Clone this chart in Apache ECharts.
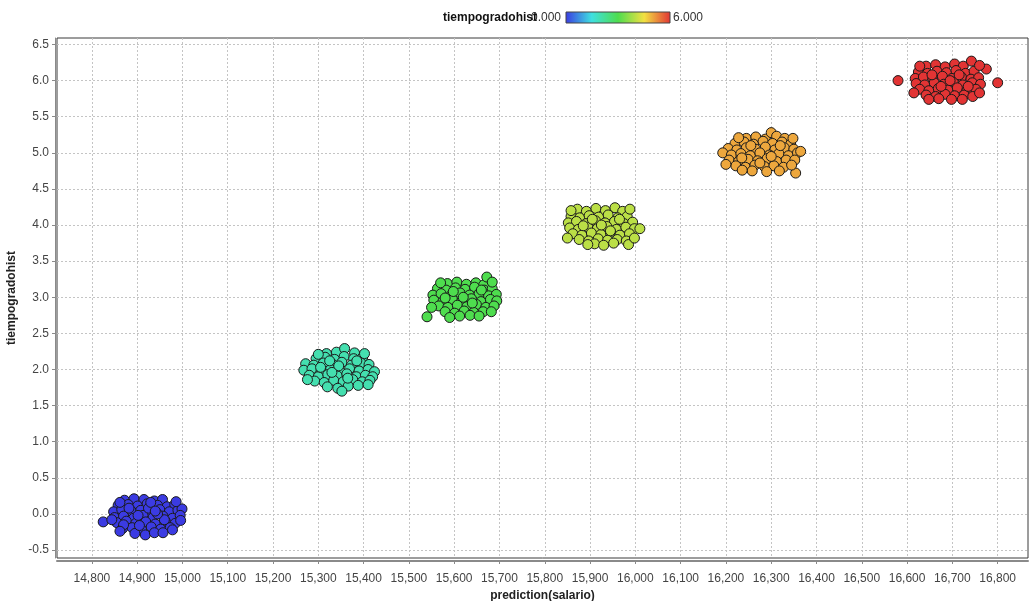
<!DOCTYPE html>
<html>
<head>
<meta charset="utf-8">
<script src="https://cdn.jsdelivr.net/npm/echarts@6/dist/echarts.min.js"></script>
<style>
  html, body { margin: 0; padding: 0; background: #fff; }
  #chart { width: 1031px; height: 601px; }
</style>
</head>
<body>
<div id="chart"></div>
<script>
// Axis ticks
const xTicks = [14800, 14900, 15000, 15100, 15200, 15300, 15400, 15500, 15600, 15700,
  15800, 15900, 16000, 16100, 16200, 16300, 16400, 16500, 16600, 16700, 16800];
const yTicks = [-0.5, 0.0, 0.5, 1.0, 1.5, 2.0, 2.5, 3.0, 3.5, 4.0, 4.5, 5.0, 5.5, 6.0, 6.5];

// Observed grades (colour value) for each group
const grades = [0, 2, 3, 4, 5, 6];

// [prediction(salario), tiempogradohist (jittered)] per grade
const grade0 = [
  [14872,0.19],[14893,0.21],[14915,0.20],[14938,0.18],[14956,0.20],
  [14858,0.12],[14880,0.13],[14901,0.11],[14922,0.14],[14945,0.12],[14966,0.10],[14983,0.13],
  [14848,0.03],[14866,0.06],[14887,0.04],[14908,0.05],[14929,0.02],[14950,0.06],[14971,0.03],[14990,0.05],[14999,0.07],
  [14850,-0.05],[14870,-0.03],[14892,-0.06],[14913,-0.02],[14935,-0.05],[14957,-0.03],[14978,-0.06],[14995,-0.02],
  [14855,-0.12],[14876,-0.10],[14897,-0.13],[14919,-0.11],[14940,-0.14],[14962,-0.10],[14984,-0.13],
  [14868,-0.20],[14889,-0.19],[14910,-0.22],[14931,-0.18],[14952,-0.21],[14973,-0.19],
  [14895,-0.27],[14918,-0.29],[14938,-0.26],[14978,-0.22],
  [14825,-0.11],[14882,0.08],[14925,0.08],[14960,-0.08],[14905,-0.16],[14945,0.00],[14870,-0.15],[14930,0.16],
  [14862,0.16],[14986,0.17],[14844,-0.08],[14996,-0.09],[14862,-0.24],[14957,-0.26],[14902,-0.02],[14940,0.04]
];
const grade2 = [
  [15318,2.22],[15340,2.24],[15358,2.29],[15380,2.23],
  [15295,2.15],[15315,2.17],[15336,2.14],[15357,2.18],[15378,2.15],[15398,2.17],
  [15272,2.08],[15290,2.06],[15311,2.09],[15332,2.07],[15352,2.10],[15373,2.06],[15394,2.09],[15412,2.07],
  [15268,1.99],[15286,2.01],[15306,1.98],[15327,2.00],[15348,1.97],[15369,2.01],[15390,1.98],[15410,2.00],[15424,1.97],
  [15280,1.92],[15300,1.90],[15321,1.93],[15342,1.91],[15363,1.94],[15384,1.90],[15404,1.92],[15420,1.90],
  [15292,1.84],[15313,1.82],[15334,1.85],[15355,1.83],[15376,1.86],[15397,1.83],[15414,1.85],
  [15320,1.76],[15343,1.74],[15366,1.77],[15388,1.78],
  [15325,2.12],[15365,1.88],[15305,2.03],[15385,2.12],[15345,2.05],
  [15300,2.21],[15402,2.22],[15276,1.86],[15410,1.79],[15352,1.70],[15330,1.96]
];
const grade3 = [
  [15585,3.19],[15606,3.21],[15627,3.18],[15648,3.20],[15665,3.17],
  [15563,3.12],[15582,3.10],[15603,3.13],[15624,3.11],[15645,3.14],[15666,3.10],[15684,3.12],
  [15553,3.03],[15571,3.05],[15592,3.02],[15613,3.06],[15634,3.03],[15655,3.05],[15676,3.02],[15693,3.04],
  [15555,2.96],[15575,2.94],[15596,2.97],[15617,2.95],[15638,2.98],[15659,2.94],[15680,2.97],[15694,2.95],
  [15566,2.88],[15586,2.86],[15607,2.89],[15628,2.87],[15649,2.90],[15670,2.86],[15688,2.88],
  [15580,2.80],[15601,2.78],[15622,2.81],[15643,2.79],[15664,2.80],
  [15612,2.74],[15635,2.75],
  [15540,2.73],[15672,3.28],
  [15598,3.08],[15640,2.92],[15620,3.00],[15580,2.99],[15660,3.10],
  [15570,3.20],[15684,3.21],[15550,2.86],[15682,2.80],[15655,2.74],[15590,2.72]
];
const grade4 = [
  [15872,4.22],[15892,4.19],[15913,4.23],[15934,4.20],[15955,4.24],[15972,4.19],
  [15858,4.12],[15877,4.10],[15898,4.13],[15919,4.11],[15940,4.14],[15961,4.10],[15982,4.12],
  [15852,4.03],[15870,4.05],[15891,4.02],[15912,4.06],[15933,4.03],[15954,4.05],[15975,4.02],[15994,4.04],
  [15855,3.96],[15874,3.94],[15895,3.97],[15916,3.95],[15937,3.98],[15958,3.94],[15979,3.97],[15998,3.95],[16010,3.95],
  [15862,3.88],[15882,3.86],[15903,3.89],[15924,3.87],[15945,3.90],[15966,3.86],[15987,3.88],
  [15876,3.80],[15897,3.78],[15918,3.81],[15939,3.79],[15960,3.80],[15980,3.78],
  [15910,3.74],[15952,3.75],[15985,3.73],
  [15905,4.08],[15945,3.92],[15925,4.00],[15885,3.99],[15965,4.08],
  [15858,4.20],[15988,4.22],[15850,3.82],[15998,3.82],[15930,3.72],[15895,3.73]
];
const grade5 = [
  [16245,5.20],[16266,5.22],[16287,5.19],[16300,5.28],[16312,5.23],[16330,5.20],
  [16220,5.13],[16240,5.15],[16261,5.12],[16282,5.16],[16303,5.13],[16324,5.15],[16343,5.12],
  [16205,5.06],[16224,5.04],[16245,5.07],[16266,5.05],[16287,5.08],[16308,5.04],[16329,5.07],[16350,5.05],
  [16193,5.00],[16212,4.97],[16233,4.99],[16254,4.96],[16275,5.00],[16296,4.97],[16317,4.99],[16338,4.96],[16358,5.00],[16365,5.02],
  [16207,4.90],[16228,4.88],[16249,4.91],[16270,4.89],[16291,4.92],[16312,4.88],[16333,4.90],[16352,4.90],
  [16222,4.82],[16243,4.80],[16264,4.83],[16285,4.81],[16306,4.82],[16327,4.80],
  [16258,4.75],[16290,4.74],[16354,4.72],
  [16255,5.10],[16300,4.95],[16320,5.10],[16235,4.93],[16275,4.86],
  [16228,5.21],[16348,5.20],[16200,4.84],[16345,4.83],[16318,4.75],[16236,4.76]
];
const grade6 = [
  [16642,6.20],[16663,6.22],[16684,6.19],[16705,6.23],[16724,6.20],[16742,6.27],
  [16625,6.12],[16645,6.10],[16666,6.13],[16687,6.11],[16708,6.14],[16729,6.10],[16748,6.13],[16775,6.16],
  [16618,6.03],[16636,6.05],[16657,6.02],[16678,6.06],[16699,6.03],[16720,6.05],[16741,6.02],[16758,6.04],
  [16620,5.96],[16639,5.94],[16660,5.97],[16681,5.95],[16702,5.98],[16723,5.94],[16744,5.97],[16762,5.95],
  [16628,5.88],[16648,5.86],[16669,5.89],[16690,5.87],[16711,5.90],[16732,5.86],[16752,5.88],
  [16642,5.80],[16663,5.78],[16684,5.81],[16705,5.79],[16726,5.80],[16745,5.78],
  [16670,5.75],[16698,5.74],
  [16580,6.00],[16800,5.97],
  [16655,6.08],[16695,6.00],[16735,5.92],[16675,5.92],[16715,6.08],
  [16628,6.20],[16760,6.21],[16615,5.83],[16760,5.83],[16722,5.74],[16648,5.74]
];
const groups = [grade0, grade2, grade3, grade4, grade5, grade6];

// Colour ramp for tiempogradohist (0 → 6)
const ramp = ['#3b3be2', '#3fe0e0', '#4edd4e', '#f2e042', '#e23434'];

const chart = echarts.init(document.getElementById('chart'), null, { renderer: 'canvas' });

const FONT = '"Liberation Sans", Arial, sans-serif';

const series = groups.map((pts, i) => ({
  type: 'scatter',
  name: 'g' + grades[i],
  symbol: 'circle',
  symbolSize: 10,
  itemStyle: { borderColor: '#1a1a1a', borderWidth: 1, opacity: 1 },
  data: pts.map(p => [p[0], p[1], grades[i]]),
  animation: false
}));

chart.setOption({
  backgroundColor: '#ffffff',
  animation: false,
  grid: {
    left: 57, right: 3, top: 38, bottom: 43,
    outerBoundsMode: 'none',
    containLabel: false,
    show: true, borderColor: '#3a3a3a', borderWidth: 1, backgroundColor: '#ffffff'
  },
  visualMap: {
    show: false,
    type: 'continuous',
    dimension: 2,
    min: 0, max: 6,
    inRange: { color: ramp },
    seriesIndex: [0, 1, 2, 3, 4, 5]
  },
  xAxis: {
    type: 'value',
    min: 14723, max: 16867,
    interval: 100,
    name: 'prediction(salario)',
    nameLocation: 'middle',
    nameGap: 29,
    nameTextStyle: { fontFamily: FONT, fontWeight: 'bold', fontSize: 12, color: '#222' },
    offset: 3,
    axisLine: { show: true, onZero: false, lineStyle: { color: '#8a8a8a', width: 2 } },
    axisTick: { show: true, length: 3, lineStyle: { color: '#8a8a8a' }, customValues: xTicks },
    axisLabel: {
      fontFamily: FONT, fontSize: 12, color: '#444', margin: 12,
      customValues: xTicks,
      formatter: v => v.toLocaleString('en-US')
    },
    splitLine: { show: true, lineStyle: { color: '#c4c4c4', type: [2, 2], width: 1 } }
  },
  yAxis: {
    type: 'value',
    min: -0.61, max: 6.59,
    interval: 0.5,
    name: 'tiempogradohist',
    nameLocation: 'middle',
    nameGap: 34,
    nameRotate: 90,
    nameTextStyle: { fontFamily: FONT, fontWeight: 'bold', fontSize: 12, color: '#222' },
    offset: 2,
    axisLine: { show: true, onZero: false, lineStyle: { color: '#8a8a8a', width: 1 } },
    axisTick: { show: true, length: 3, lineStyle: { color: '#8a8a8a' }, customValues: yTicks },
    axisLabel: {
      fontFamily: FONT, fontSize: 12, color: '#444', margin: 6,
      customValues: yTicks,
      formatter: v => v.toFixed(1)
    },
    splitLine: { show: true, lineStyle: { color: '#c4c4c4', type: [2, 2], width: 1 } }
  },
  graphic: [
    {
      type: 'text', left: 443, top: 12, z: 10,
      style: { text: 'tiempogradohist', font: 'bold 12px ' + FONT, fill: '#111' }
    },
    {
      type: 'text', left: 531, top: 12, z: 9,
      style: { text: '0.000', font: '12px ' + FONT, fill: '#333' }
    },
    {
      type: 'rect', z: 10,
      shape: { x: 566, y: 12, width: 104, height: 11 },
      style: {
        stroke: '#444', lineWidth: 1,
        fill: new echarts.graphic.LinearGradient(0, 0, 1, 0, ramp.map((c, i) => ({ offset: i / (ramp.length - 1), color: c })))
      }
    },
    {
      type: 'text', left: 673, top: 12, z: 10,
      style: { text: '6.000', font: '12px ' + FONT, fill: '#333' }
    }
  ],
  series: series
});
</script>
</body>
</html>
